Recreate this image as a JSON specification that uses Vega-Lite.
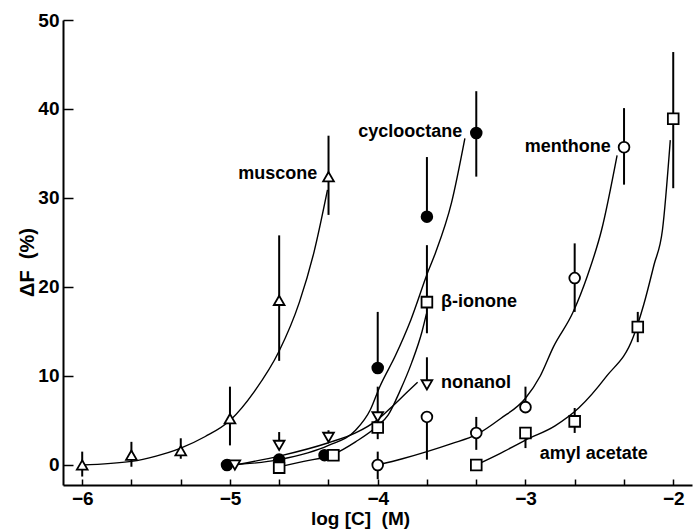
{
  "$schema": "https://vega.github.io/schema/vega-lite/v6.json",
  "width": 629,
  "height": 465,
  "autosize": "none",
  "padding": {"left": 63, "top": 20, "right": 3, "bottom": 44},
  "background": "white",
  "config": {"view": {"stroke": null}, "font": "Liberation Sans"},
  "datasets": {
    "points": [
      {"compound": "cyclooctane", "logc": -5.02, "df": 0, "lo": 0, "hi": 0},
      {"compound": "cyclooctane", "logc": -4.667, "df": 0.6, "lo": 0.6, "hi": 0.6},
      {"compound": "cyclooctane", "logc": -4.36, "df": 1.1, "lo": 1.1, "hi": 1.1},
      {"compound": "cyclooctane", "logc": -4, "df": 10.9, "lo": 10.9, "hi": 17.2},
      {"compound": "cyclooctane", "logc": -3.667, "df": 27.9, "lo": 27.9, "hi": 34.6},
      {"compound": "cyclooctane", "logc": -3.333, "df": 37.3, "lo": 32.4, "hi": 42.0},
      {"compound": "muscone", "logc": -6, "df": 0, "lo": -1.3, "hi": 1.5},
      {"compound": "muscone", "logc": -5.667, "df": 1.1, "lo": -0.2, "hi": 2.6},
      {"compound": "muscone", "logc": -5.333, "df": 1.6, "lo": 0.7, "hi": 3.0},
      {"compound": "muscone", "logc": -5, "df": 5.2, "lo": 2.2, "hi": 8.8},
      {"compound": "muscone", "logc": -4.667, "df": 18.5, "lo": 11.7, "hi": 25.8},
      {"compound": "muscone", "logc": -4.333, "df": 32.4, "lo": 28.1, "hi": 37.0},
      {"compound": "β-ionone", "logc": -4.667, "df": -0.3, "lo": -0.3, "hi": -0.3},
      {"compound": "β-ionone", "logc": -4.3, "df": 1.1, "lo": 1.1, "hi": 1.1},
      {"compound": "β-ionone", "logc": -4, "df": 4.2, "lo": 2.9, "hi": 5.5},
      {"compound": "β-ionone", "logc": -3.667, "df": 18.3, "lo": 14.8, "hi": 24.7},
      {"compound": "nonanol", "logc": -4.967, "df": 0, "lo": 0, "hi": 0},
      {"compound": "nonanol", "logc": -4.667, "df": 2.2, "lo": 2.2, "hi": 3.7},
      {"compound": "nonanol", "logc": -4.333, "df": 3.1, "lo": 3.1, "hi": 3.9},
      {"compound": "nonanol", "logc": -4, "df": 5.4, "lo": 5.4, "hi": 8.8},
      {"compound": "nonanol", "logc": -3.667, "df": 9.0, "lo": 9.0, "hi": 12.1},
      {"compound": "menthone", "logc": -4, "df": 0, "lo": -1.6, "hi": 1.5},
      {"compound": "menthone", "logc": -3.667, "df": 5.4, "lo": 0.6, "hi": 5.4},
      {"compound": "menthone", "logc": -3.333, "df": 3.6, "lo": 1.7, "hi": 5.4},
      {"compound": "menthone", "logc": -3, "df": 6.5, "lo": 6.5, "hi": 8.8},
      {"compound": "menthone", "logc": -2.667, "df": 21.0, "lo": 17.2, "hi": 24.9},
      {"compound": "menthone", "logc": -2.333, "df": 35.7, "lo": 31.5, "hi": 40.1},
      {"compound": "amyl acetate", "logc": -3.333, "df": 0, "lo": 0, "hi": 0},
      {"compound": "amyl acetate", "logc": -3, "df": 3.6, "lo": 1.9, "hi": 3.6},
      {"compound": "amyl acetate", "logc": -2.667, "df": 4.9, "lo": 3.6, "hi": 6.4},
      {"compound": "amyl acetate", "logc": -2.24, "df": 15.5, "lo": 13.8, "hi": 17.2},
      {"compound": "amyl acetate", "logc": -2, "df": 38.9, "lo": 31.1, "hi": 46.4}
    ],
    "curves": [
      {"compound": "muscone", "logc": -6, "df": 0},
      {"compound": "muscone", "logc": -5.667, "df": 0.4},
      {"compound": "muscone", "logc": -5.5, "df": 1.0},
      {"compound": "muscone", "logc": -5.333, "df": 1.9},
      {"compound": "muscone", "logc": -5.167, "df": 3.2},
      {"compound": "muscone", "logc": -5, "df": 5.0},
      {"compound": "muscone", "logc": -4.833, "df": 8.3},
      {"compound": "muscone", "logc": -4.667, "df": 12.8},
      {"compound": "muscone", "logc": -4.53, "df": 18.3},
      {"compound": "muscone", "logc": -4.43, "df": 24.0},
      {"compound": "muscone", "logc": -4.34, "df": 30.9},
      {"compound": "cyclooctane", "logc": -5, "df": 0},
      {"compound": "cyclooctane", "logc": -4.667, "df": 0.6},
      {"compound": "cyclooctane", "logc": -4.333, "df": 2.2},
      {"compound": "cyclooctane", "logc": -4.15, "df": 3.9},
      {"compound": "cyclooctane", "logc": -4.05, "df": 6.2},
      {"compound": "cyclooctane", "logc": -3.986, "df": 8.8},
      {"compound": "cyclooctane", "logc": -3.88, "df": 12.3},
      {"compound": "cyclooctane", "logc": -3.776, "df": 16.3},
      {"compound": "cyclooctane", "logc": -3.66, "df": 21.7},
      {"compound": "cyclooctane", "logc": -3.61, "df": 23.8},
      {"compound": "cyclooctane", "logc": -3.5, "df": 29.5},
      {"compound": "cyclooctane", "logc": -3.41, "df": 36.7},
      {"compound": "β-ionone", "logc": -4.667, "df": -0.2},
      {"compound": "β-ionone", "logc": -4.5, "df": 0.4},
      {"compound": "β-ionone", "logc": -4.3, "df": 1.2},
      {"compound": "β-ionone", "logc": -4.15, "df": 2.6},
      {"compound": "β-ionone", "logc": -4, "df": 4.4},
      {"compound": "β-ionone", "logc": -3.93, "df": 5.6},
      {"compound": "β-ionone", "logc": -3.85, "df": 8.3},
      {"compound": "β-ionone", "logc": -3.77, "df": 11.5},
      {"compound": "β-ionone", "logc": -3.7, "df": 15.0},
      {"compound": "β-ionone", "logc": -3.67, "df": 17.0},
      {"compound": "nonanol", "logc": -4.967, "df": 0},
      {"compound": "nonanol", "logc": -4.667, "df": 1.0},
      {"compound": "nonanol", "logc": -4.333, "df": 2.5},
      {"compound": "nonanol", "logc": -4.15, "df": 3.6},
      {"compound": "nonanol", "logc": -4, "df": 5.1},
      {"compound": "nonanol", "logc": -3.9, "df": 6.6},
      {"compound": "nonanol", "logc": -3.8, "df": 8.2},
      {"compound": "nonanol", "logc": -3.73, "df": 9.3},
      {"compound": "menthone", "logc": -4, "df": 0},
      {"compound": "menthone", "logc": -3.833, "df": 0.7},
      {"compound": "menthone", "logc": -3.667, "df": 1.5},
      {"compound": "menthone", "logc": -3.5, "df": 2.4},
      {"compound": "menthone", "logc": -3.333, "df": 3.4},
      {"compound": "menthone", "logc": -3.17, "df": 5.2},
      {"compound": "menthone", "logc": -3, "df": 7.5},
      {"compound": "menthone", "logc": -2.9, "df": 10.0},
      {"compound": "menthone", "logc": -2.81, "df": 13.3},
      {"compound": "menthone", "logc": -2.68, "df": 17.1},
      {"compound": "menthone", "logc": -2.58, "df": 21.3},
      {"compound": "menthone", "logc": -2.485, "df": 26.4},
      {"compound": "menthone", "logc": -2.38, "df": 34.8},
      {"compound": "amyl acetate", "logc": -3.333, "df": 0},
      {"compound": "amyl acetate", "logc": -3.17, "df": 1.3},
      {"compound": "amyl acetate", "logc": -3, "df": 2.8},
      {"compound": "amyl acetate", "logc": -2.8, "df": 4.4},
      {"compound": "amyl acetate", "logc": -2.64, "df": 6.4},
      {"compound": "amyl acetate", "logc": -2.455, "df": 9.9},
      {"compound": "amyl acetate", "logc": -2.27, "df": 14.4},
      {"compound": "amyl acetate", "logc": -2.2, "df": 18.0},
      {"compound": "amyl acetate", "logc": -2.13, "df": 22.5},
      {"compound": "amyl acetate", "logc": -2.073, "df": 26.4},
      {"compound": "amyl acetate", "logc": -2.02, "df": 36.5}
    ],
    "labels": [
      {"text": "muscone", "logc": -4.416, "df": 32.7, "align": "right"},
      {"text": "cyclooctane", "logc": -3.435, "df": 37.4, "align": "right"},
      {"text": "menthone", "logc": -2.43, "df": 35.7, "align": "right"},
      {"text": "β-ionone", "logc": -3.571, "df": 18.3, "align": "left"},
      {"text": "nonanol", "logc": -3.571, "df": 9.2, "align": "left"},
      {"text": "amyl acetate", "logc": -2.904, "df": 1.2, "align": "left"}
    ]
  },
  "layer": [
    {
      "data": {"name": "points"},
      "transform": [{"filter": "datum.hi > datum.lo"}],
      "mark": {"type": "rule", "color": "black", "strokeWidth": 2},
      "encoding": {
        "x": {
          "field": "logc", "type": "quantitative", "title": "log [C]\u00a0\u00a0(M)",
          "scale": {"domain": [-6.13, -1.873], "nice": false, "zero": false},
          "axis": {
            "values": [-6, -5.6667, -5.3333, -5, -4.6667, -4.3333, -4, -3.6667, -3.3333, -3, -2.6667, -2.3333, -2],
            "labelExpr": "abs(datum.value - round(datum.value)) < 0.01 ? format(datum.value, 'd') : ''",
            "labelOverlap": false, "labelFlush": false, "grid": false,
            "tickSize": -6, "tickWidth": 1.5, "tickColor": "black",
            "domainColor": "black", "domainWidth": 2,
            "labelFont": "Liberation Sans", "labelFontSize": 19, "labelFontWeight": "bold", "labelColor": "black", "labelPadding": 10,
            "titleFont": "Liberation Sans", "titleFontSize": 19, "titleFontWeight": "bold", "titleColor": "black",
            "titleX": 297, "titleY": 39, "titleBaseline": "alphabetic"
          }
        },
        "y": {
          "field": "lo", "type": "quantitative", "title": "ΔF\u00a0\u00a0(%)",
          "scale": {"domain": [-2.25, 50], "nice": false, "zero": false},
          "axis": {
            "values": [0, 10, 20, 30, 40, 50], "grid": false,
            "tickSize": -10, "tickWidth": 1.5, "tickColor": "black",
            "domainColor": "black", "domainWidth": 2,
            "labelFont": "Liberation Sans", "labelFontSize": 19, "labelFontWeight": "bold", "labelColor": "black", "labelPadding": 14,
            "titleFont": "Liberation Sans", "titleFontSize": 20, "titleFontWeight": "bold", "titleColor": "black",
            "titleX": -36, "titleY": 242, "titleBaseline": "middle"
          }
        },
        "y2": {"field": "hi"}
      }
    },
    {
      "data": {"name": "curves"},
      "mark": {"type": "line", "color": "black", "strokeWidth": 1.4, "interpolate": "monotone"},
      "encoding": {
        "x": {"field": "logc", "type": "quantitative", "title": "log [C]\u00a0\u00a0(M)"},
        "y": {"field": "df", "type": "quantitative", "title": "ΔF\u00a0\u00a0(%)"},
        "detail": {"field": "compound"}
      }
    },
    {
      "data": {"name": "points"},
      "mark": {"type": "point", "filled": true, "stroke": "black", "strokeWidth": 1.8, "opacity": 1, "size": 115},
      "encoding": {
        "x": {"field": "logc", "type": "quantitative", "title": "log [C]\u00a0\u00a0(M)"},
        "y": {"field": "df", "type": "quantitative", "title": "ΔF\u00a0\u00a0(%)"},
        "shape": {
          "field": "compound",
          "scale": {"domain": ["muscone", "cyclooctane", "β-ionone", "nonanol", "menthone", "amyl acetate"], "range": ["triangle-up", "circle", "square", "triangle-down", "circle", "square"]},
          "legend": null
        },
        "fill": {
          "field": "compound",
          "scale": {"domain": ["muscone", "cyclooctane", "β-ionone", "nonanol", "menthone", "amyl acetate"], "range": ["white", "black", "white", "white", "white", "white"]},
          "legend": null
        }
      }
    },
    {
      "data": {"name": "labels"},
      "transform": [{"filter": "datum.align == 'right'"}],
      "mark": {"type": "text", "align": "right", "baseline": "middle", "font": "Liberation Sans", "fontSize": 18, "fontWeight": "bold", "color": "black", "dx": 1},
      "encoding": {
        "x": {"field": "logc", "type": "quantitative", "title": "log [C]\u00a0\u00a0(M)"},
        "y": {"field": "df", "type": "quantitative", "title": "ΔF\u00a0\u00a0(%)"},
        "text": {"field": "text"}
      }
    },
    {
      "data": {"name": "labels"},
      "transform": [{"filter": "datum.align == 'left'"}],
      "mark": {"type": "text", "align": "left", "baseline": "middle", "font": "Liberation Sans", "fontSize": 18, "fontWeight": "bold", "color": "black"},
      "encoding": {
        "x": {"field": "logc", "type": "quantitative", "title": "log [C]\u00a0\u00a0(M)"},
        "y": {"field": "df", "type": "quantitative", "title": "ΔF\u00a0\u00a0(%)"},
        "text": {"field": "text"}
      }
    }
  ]
}
